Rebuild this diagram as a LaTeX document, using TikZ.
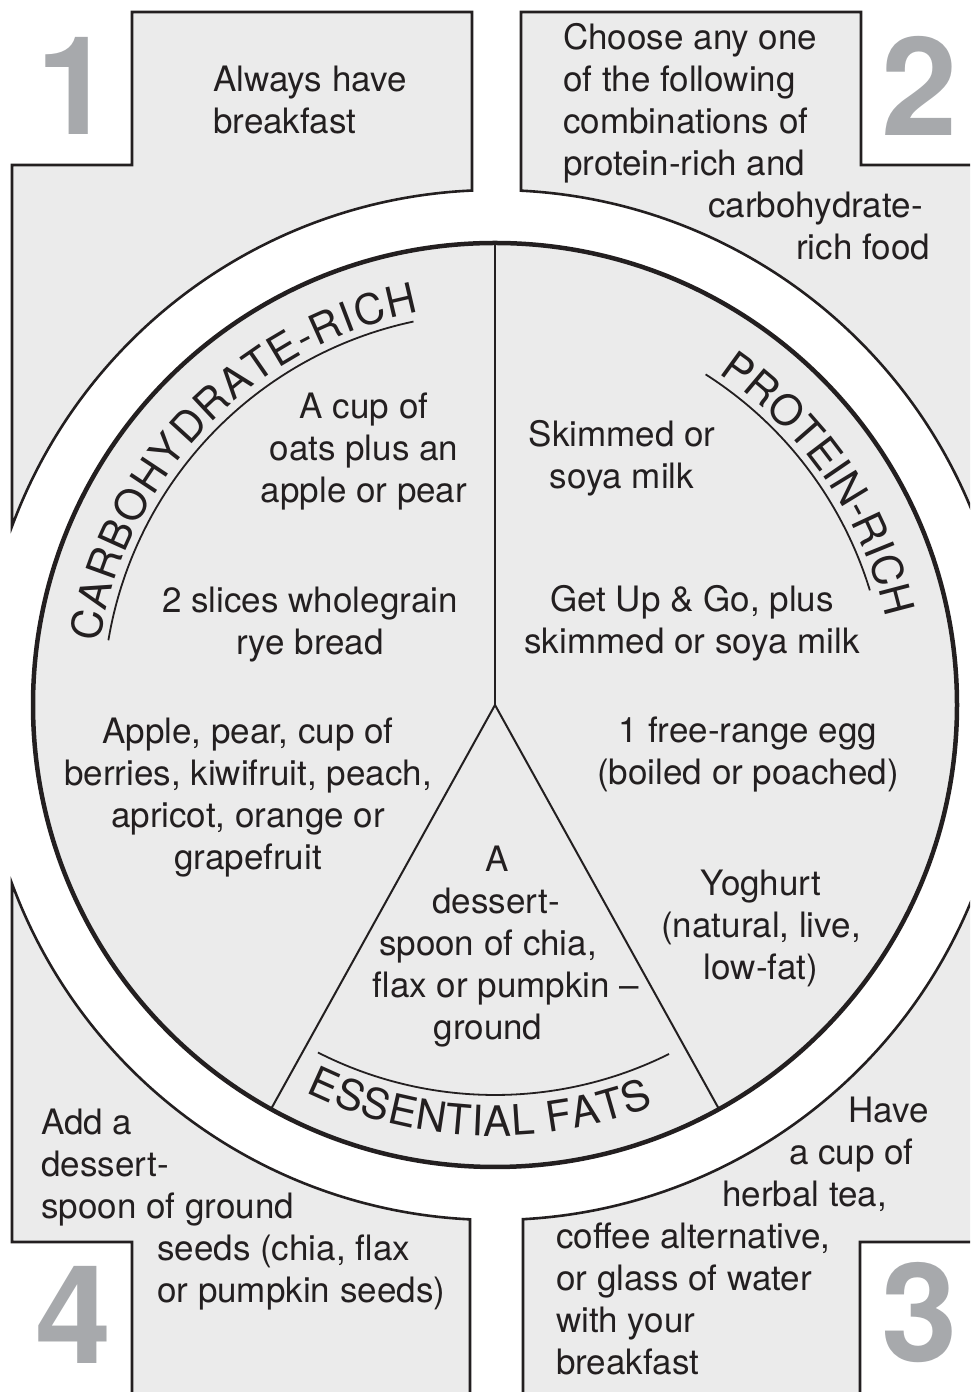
\documentclass[tikz,border=0pt]{standalone}
\usepackage{fontspec}
\setmainfont{TeX Gyre Heros}
\usetikzlibrary{decorations.text}
\definecolor{figGris}{RGB}{235,235,235}
\definecolor{figCifra}{RGB}{167,169,172}
\definecolor{figTinta}{RGB}{35,31,32}
\newcommand{\cuerpo}{\fontsize{35}{42}\selectfont}
\newcommand{\rotulo}{\fontsize{42}{50}\selectfont}
\newcommand{\cifra}{\fontsize{137}{137}\selectfont\bfseries}
\tikzset{
  panel/.style={fill=figGris, draw=figTinta, line width=2.6pt},
  plato/.style={fill=figGris, draw=figTinta, line width=4.5pt},
  corte/.style={draw=figTinta, line width=2pt},
  subraya/.style={draw=figTinta, line width=1.8pt},
  texto/.style={inner sep=0pt, text=figTinta, font=\cuerpo},
  numero/.style={inner sep=0pt, text=figCifra, font=\cifra},
  curvo/.style={decorate, decoration={text along path, text align=fit to path, text color=figTinta}}
}

\begin{document}
\begin{tikzpicture}[x=1pt, y=1pt]
  \clip (0,0) rectangle (970,1392);
  \coordinate (C) at (495,687);

  % cuatro paneles alrededor del plato
  \draw[panel] (12,1227) -- (132,1227) -- (132,1380) -- (472,1380) -- ([shift={(92.56:515)}]C) arc[start angle=92.56, end angle=159.7, radius=515] -- cycle;
  \draw[panel] (521,1380) -- (861,1380) -- (861,1227) -- (990,1227) -- ([shift={(16:515)}]C) arc[start angle=16, end angle=87.11, radius=515] -- cycle;
  \draw[panel] (523,-10) -- ([shift={(-86.88:515)}]C) arc[start angle=-86.88, end angle=-16, radius=515] -- (990,150) -- (860,150) -- (860,-10) -- cycle;
  \draw[panel] (12,150) -- ([shift={(200.3:515)}]C) arc[start angle=200.3, end angle=267.22, radius=515] -- (470,-10) -- (132,-10) -- (132,150) -- cycle;

  % plato
  \draw[plato] (C) circle[radius=462];
  \draw[corte] (C) -- ([shift={(90:462)}]C);
  \draw[corte] (C) -- ([shift={(-119:462)}]C);
  \draw[corte] (C) -- ([shift={(-61:462)}]C);

  % rotulos curvos
  \draw[subraya] ([shift={(170.5:392)}]C) arc[start angle=170.5, end angle=102, radius=392];
  \path[curvo, decoration={text={|\rotulo|CARBOHYDRATE-RICH}}] ([shift={(171:400)}]C) arc[start angle=171, end angle=101, radius=400];
  \draw[subraya] ([shift={(57.5:392)}]C) arc[start angle=57.5, end angle=17, radius=392];
  \path[curvo, decoration={text={|\rotulo|PROTEIN-RICH}}] ([shift={(56:400)}]C) arc[start angle=56, end angle=13, radius=400];
  \draw[subraya] ([shift={(-117:390)}]C) arc[start angle=-117, end angle=-63.5, radius=390];
  \path[curvo, decoration={text={|\rotulo|ESSENTIAL FATS}}] ([shift={(-116:431)}]C) arc[start angle=-116, end angle=-68.4, radius=431];

  % textos (base = ultima linea)
  \node[texto, anchor=base west, align=left] (desayuno) at (213,1258) {Always have\\breakfast};
  \node[texto, anchor=base west, align=left] (elegir) at (563,1132) {Choose any one\\of the following\\combinations of\\protein-rich and\\\hspace*{145pt}carbohydrate-\\\hspace*{233pt}rich food};
  \node[texto, anchor=base, align=center] (avena) at (364,889) {A cup of\\oats plus an\\apple or pear};
  \node[texto, anchor=base, align=center] (centeno) at (310,737) {2 slices wholegrain\\rye bread};
  \node[texto, anchor=base, align=center] (fruta) at (248,522) {Apple, pear, cup of\\berries, kiwifruit, peach,\\apricot, orange or\\grapefruit};
  \node[texto, anchor=base, align=center] (leche) at (622,903) {Skimmed or\\soya milk};
  \node[texto, anchor=base, align=center] (getup) at (692,738) {Get Up \& Go, plus\\skimmed or soya milk};
  \node[texto, anchor=base, align=center] (huevo) at (748,607) {1 free-range egg\\(boiled or poached)};
  \node[texto, anchor=base, align=center] (yogur) at (761,412) {Yoghurt\\(natural, live,\\low-fat)};
  \node[texto, anchor=base, align=center] (semillas) at (488,352) {\hspace*{18pt}A\\\hspace*{16pt}dessert-\\spoon of chia,\\\hspace*{36pt}flax or pumpkin –\\ground};
  \node[texto, anchor=base west, align=left] (anadir) at (41,89) {Add a\\dessert-\\spoon of ground\\\hspace*{116pt}seeds (chia, flax\\\hspace*{116pt}or pumpkin seeds)};
  \node[texto, anchor=base west, align=left] (bebida) at (556,17) {\hspace*{292pt}Have\\\hspace*{233pt}a cup of\\\hspace*{166pt}herbal tea,\\coffee alternative,\\or glass of water\\with your\\breakfast};

  % numeros
  \node[numero] (uno) at (75,1306) {1};
  \node[numero] (dos) at (920,1306) {2};
  \node[numero] (tres) at (920,79) {3};
  \node[numero] (cuatro) at (74,77) {4};
\end{tikzpicture}
\end{document}
